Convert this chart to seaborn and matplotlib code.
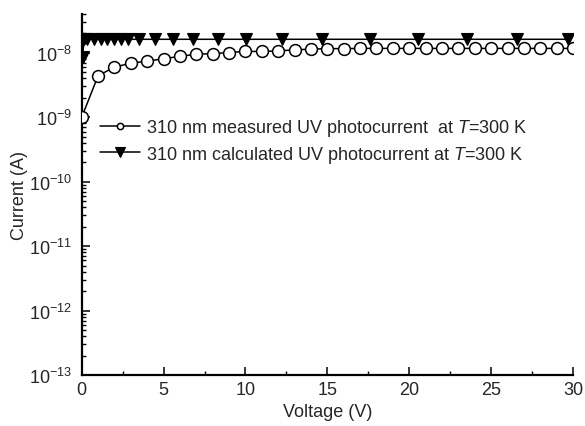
import numpy as np
import pandas as pd
import matplotlib
matplotlib.use("Agg")
import matplotlib.pyplot as plt
import matplotlib.ticker as mticker
import seaborn as sns

# ---- data ----
v_meas = list(range(0, 31))
i_meas = [1.0e-9, 4.4e-9, 6.0e-9, 6.9e-9, 7.4e-9, 8.1e-9, 8.8e-9, 9.5e-9,
          9.7e-9, 1.01e-8, 1.05e-8, 1.05e-8, 1.07e-8, 1.11e-8, 1.14e-8,
          1.16e-8, 1.16e-8, 1.17e-8, 1.17e-8, 1.17e-8, 1.17e-8, 1.17e-8,
          1.17e-8, 1.17e-8, 1.17e-8, 1.17e-8, 1.17e-8, 1.17e-8, 1.17e-8,
          1.17e-8, 1.17e-8]

v_calc = [0.05, 0.15, 0.35, 0.75, 1.15, 1.55, 2.0, 2.4, 2.8, 3.5, 4.45, 5.55,
          6.8, 8.3, 10.05, 12.2, 14.7, 17.6, 20.55, 23.55, 26.6, 29.7]
i_calc = [8.5e-9] + [1.62e-8] * 21

label_meas = "310 nm measured UV photocurrent  at $T$=300 K"
label_calc = "310 nm calculated UV photocurrent at $T$=300 K"
x_label = "Voltage (V)"
y_label = "Current (A)"
x_ticks = [0, 5, 10, 15, 20, 25, 30]

df_meas = pd.DataFrame({"V": v_meas, "I": i_meas})
df_calc = pd.DataFrame({"V": v_calc, "I": i_calc})

sns.set_style("ticks")
plt.rcParams["font.family"] = ["Liberation Sans", "DejaVu Sans"]
plt.rcParams["mathtext.fontset"] = "custom"
plt.rcParams["mathtext.rm"] = "Liberation Sans"
plt.rcParams["mathtext.it"] = "Liberation Sans:italic"
plt.rcParams["mathtext.bf"] = "Liberation Sans:bold"
plt.rcParams["font.size"] = 13

fig = plt.figure(figsize=(5.85, 4.27), dpi=100)
ax = fig.add_axes([0.1397, 0.1194, 0.8398, 0.8455])

sns.lineplot(data=df_meas, x="V", y="I", ax=ax, color="black", lw=1.1,
             marker="o", markersize=8.5, markerfacecolor="white",
             markeredgecolor="black", markeredgewidth=1.1,
             label=label_meas, sort=False, zorder=3)
sns.lineplot(data=df_calc, x="V", y="I", ax=ax, color="black", lw=1.1,
             marker="v", markersize=8.5, markerfacecolor="black",
             markeredgecolor="black", markeredgewidth=0.8,
             label=label_calc, sort=False, zorder=2)

ax.set_yscale("log")
ax.set_xlim(0, 30)
ax.set_ylim(1e-13, 4e-8)
ax.set_xticks(x_ticks)
ax.xaxis.set_minor_locator(mticker.MultipleLocator(2.5))
ax.yaxis.set_major_locator(mticker.LogLocator(base=10, numticks=20))
ax.yaxis.set_minor_locator(mticker.LogLocator(base=10, subs=np.arange(2, 10), numticks=20))
ax.yaxis.set_major_formatter(mticker.LogFormatterMathtext())
ax.yaxis.set_minor_formatter(mticker.NullFormatter())

ax.tick_params(which="major", direction="in", length=5.5, width=1.1,
               labelsize=13, color="black")
ax.tick_params(which="minor", direction="in", length=2.8, width=1.0, color="black")
ax.tick_params(axis="y", which="major", pad=7)
ax.tick_params(axis="x", which="major", pad=4)

for s in ["top", "right"]:
    ax.spines[s].set_visible(False)
for s in ["left", "bottom"]:
    ax.spines[s].set_linewidth(1.6)
    ax.spines[s].set_color("black")

ax.set_xlabel(x_label, fontsize=13, labelpad=4)
ax.set_ylabel(y_label, fontsize=13, labelpad=1)

leg = ax.legend(loc="center left", bbox_to_anchor=(0.037, 0.648),
                frameon=False, borderpad=0, borderaxespad=0,
                handlelength=2.2, handletextpad=0.35, labelspacing=0.3,
                fontsize=13)
hs = leg.legend_handles
hs[0].set_markersize(4.5)
hs[1].set_markersize(7)

fig.savefig("out.png", dpi=100)
